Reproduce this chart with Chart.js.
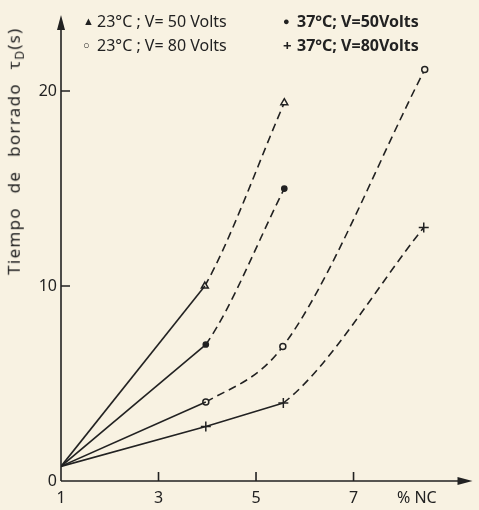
<!DOCTYPE html>
<html>
<head>
<meta charset="utf-8">
<script src="https://cdn.jsdelivr.net/npm/chart.js@4/dist/chart.umd.min.js"></script>
<style>
  html, body { margin: 0; padding: 0; background: #f8f2e2; }
  #wrap { position: relative; width: 479px; height: 510px; overflow: hidden; font-family: "Noto Sans", sans-serif; color: #222; }
  canvas { position: absolute; left: 0; top: 0; }
  .lg { position: absolute; font-size: 16px; line-height: 20px; white-space: nowrap; }
  .b { font-weight: bold; }
  .mk { display: inline-block; width: 14px; font-size: 11px; text-align: left; vertical-align: 2px; }
  #ytitle { position: absolute; left: -133px; top: 138px; width: 300px; line-height: 20px; text-align: center;
            transform: rotate(-90deg); font-size: 17px; word-spacing: 8px; letter-spacing: 1.3px; }
  #xtitle { position: absolute; left: 397px; top: 487px; font-size: 16px; line-height: 20px; }
</style>
</head>
<body>
<div id="wrap">
  <canvas id="c" width="479" height="510"></canvas>
  <div class="lg" style="left:83px; top:11px;"><span class="mk">▲</span>23°C ; V= 50 Volts</div>
  <div class="lg b" style="left:283px; top:11px;"><span class="mk">●</span>37°C; V=50Volts</div>
  <div class="lg" style="left:83px; top:35px;"><span class="mk">○</span>23°C ; V= 80 Volts</div>
  <div class="lg b" style="left:283px; top:35px;"><span class="mk" style="font-size:15px;vertical-align:0">+</span>37°C; V=80Volts</div>
  <div id="ytitle">Tiempo de borrado τ<sub style="font-size:12px">D</sub>(s)</div>
  <div id="xtitle">% NC</div>
</div>
<script>
// ---- data ----
const xTicks = [1, 3, 5, 7];
const yTicks = [0, 10, 20];

const xTri = [1, 3.95, 5.58];          // 23°C ; V=50 Volts
const yTri = [0.75, 10.0, 19.4];
const xDot = [1, 3.97, 5.58];          // 37°C ; V=50 Volts
const yDot = [0.75, 7.0, 15.0];
const xCir = [1, 3.97, 5.55, 8.46];    // 23°C ; V=80 Volts
const yCir = [0.75, 4.05, 6.9, 21.1];
const xPlu = [1, 3.97, 5.56, 8.44];    // 37°C ; V=80 Volts
const yPlu = [0.75, 2.8, 4.0, 13.0];

const INK = '#222';
const BG = '#f8f2e2';
const pts = (xs, ys) => xs.map((x, i) => ({ x, y: ys[i] }));

// straight solid part: first n points
function solidPart(xs, ys, n) {
  return {
    data: pts(xs, ys).slice(0, n),
    borderColor: INK, borderWidth: 1.6, pointRadius: 0, tension: 0, fill: false
  };
}
// curved dashed part: segments before index `start` are hidden
function curvePart(xs, ys, style, radius, fillCol, start) {
  return {
    data: pts(xs, ys),
    borderColor: INK, borderWidth: 1.6, fill: false,
    cubicInterpolationMode: 'monotone',
    pointStyle: style,
    pointRadius: xs.map((_, i) => i === 0 ? 0 : radius),
    pointBackgroundColor: fillCol,
    pointBorderColor: INK, pointBorderWidth: 1.5,
    segment: {
      borderColor: c => c.p0DataIndex < start ? 'rgba(0,0,0,0)' : INK,
      borderDash: c => c.p0DataIndex < start ? [] : [8, 5]
    }
  };
}

const decor = {
  id: 'decor',
  beforeDraw(chart) {
    const ctx = chart.ctx;
    ctx.save();
    ctx.fillStyle = BG;
    ctx.fillRect(0, 0, chart.width, chart.height);
    ctx.restore();
  },
  afterDraw(chart) {
    const ctx = chart.ctx, a = chart.chartArea;
    const xs = chart.scales.x, ys = chart.scales.y;
    ctx.save();
    ctx.strokeStyle = INK; ctx.fillStyle = INK; ctx.lineWidth = 1.6;
    ctx.beginPath();
    ctx.moveTo(a.left, a.bottom); ctx.lineTo(a.left, a.top + 4);
    ctx.moveTo(a.left, a.bottom); ctx.lineTo(a.right - 4, a.bottom);
    ctx.stroke();
    ctx.beginPath();
    yTicks.filter(v => v !== 0).forEach(v => {
      const p = ys.getPixelForValue(v);
      ctx.moveTo(a.left, p); ctx.lineTo(a.left + 9, p);
    });
    xTicks.filter(v => v !== 1).forEach(v => {
      const p = xs.getPixelForValue(v);
      ctx.moveTo(p, a.bottom); ctx.lineTo(p, a.bottom - 9);
    });
    ctx.stroke();
    ctx.beginPath();
    ctx.moveTo(a.left, a.top); ctx.lineTo(a.left - 4, a.top + 15); ctx.lineTo(a.left + 4, a.top + 15); ctx.closePath();
    ctx.fill();
    ctx.beginPath();
    ctx.moveTo(a.right, a.bottom); ctx.lineTo(a.right - 15, a.bottom - 4); ctx.lineTo(a.right - 15, a.bottom + 4); ctx.closePath();
    ctx.fill();
    ctx.restore();
  }
};

new Chart(document.getElementById('c'), {
  type: 'line',
  data: {
    datasets: [
      solidPart(xTri, yTri, 2), curvePart(xTri, yTri, 'triangle', 4, BG, 1),
      solidPart(xDot, yDot, 2), curvePart(xDot, yDot, 'circle', 2.6, INK, 1),
      solidPart(xCir, yCir, 2), curvePart(xCir, yCir, 'circle', 3, BG, 1),
      solidPart(xPlu, yPlu, 3), curvePart(xPlu, yPlu, 'cross', 5, INK, 2)
    ]
  },
  options: {
    responsive: false, animation: false,
    layout: { padding: { top: 15, right: 2, left: 0, bottom: 0 } },
    plugins: { legend: { display: false }, tooltip: { enabled: false } },
    scales: {
      x: {
        type: 'linear', min: 1, max: 9.44,
        afterFit: s => { s.height = 29; },
        afterBuildTicks: s => { s.ticks = xTicks.map(v => ({ value: v })); },
        grid: { display: false, drawTicks: false },
        border: { display: false },
        ticks: { color: INK, padding: 8, font: { family: 'Noto Sans', size: 16 } }
      },
      y: {
        type: 'linear', min: 0, max: 23.9,
        afterFit: s => { s.width = 61; },
        afterBuildTicks: s => { s.ticks = yTicks.map(v => ({ value: v })); },
        grid: { display: false, drawTicks: false },
        border: { display: false },
        ticks: { color: INK, padding: 4, font: { family: 'Noto Sans', size: 16 } }
      }
    }
  },
  plugins: [decor]
});
</script>
</body>
</html>
